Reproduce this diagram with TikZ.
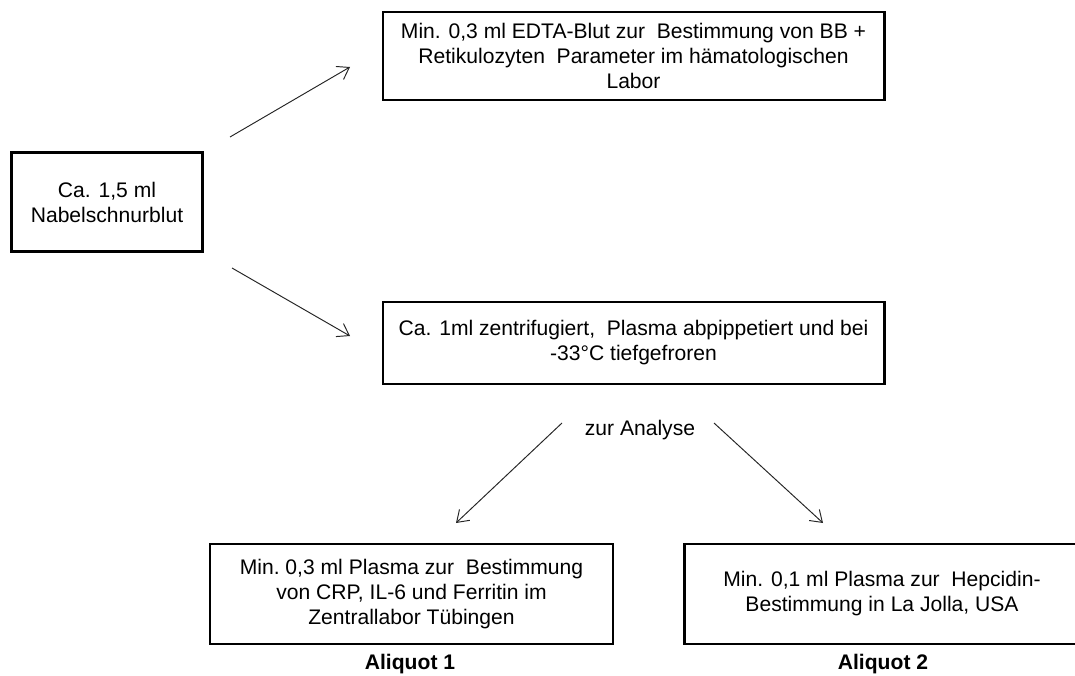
\documentclass[tikz,border=0pt]{standalone}
\usepackage{fontspec}
\setmainfont{Liberation Sans}
\usetikzlibrary{arrows.meta}
\tikzset{
	box/.style={draw, line width=1.7pt, align=center, inner sep=0pt, font=\fontsize{12}{14.2}\selectfont},
	arr/.style={-{Straight Barb[length=2.2mm, width=3mm]}, line width=0.55pt, black!85},
	lbl/.style={align=center, font=\fontsize{12}{14.2}\selectfont}
}
\begin{document}
\begin{tikzpicture}
	\useasboundingbox (0,0) rectangle (21.5,13.5);
	\node[box, minimum width=3.82cm, minimum height=1.98cm] (blood) at (2.14,9.46) {Ca. 1,5 ml\\Nabelschnurblut};
	\node[box, minimum width=10.02cm, minimum height=1.76cm] (edta) at (12.67,12.38) {Min. 0,3 ml EDTA-Blut zur\ \ Bestimmung von BB +\\Retikulozyten\ \ Parameter im h\"amatologischen\\Labor};
	\node[box, minimum width=10.02cm, minimum height=1.64cm] (plasma) at (12.67,6.64) {Ca. 1ml zentrifugiert,\ \ Plasma abpippetiert und bei\\-33\textdegree C tiefgefroren};
	\node[lbl] (analyse) at (12.8,4.9) {zur Analyse};
	\node[box, minimum width=8.06cm, minimum height=2.0cm] (crp) at (8.23,1.62) {Min.\ 0,3 ml Plasma zur\ \ Bestimmung\\von CRP, IL-6 und Ferritin im\\Zentrallabor T\"ubingen};
	\node[box, minimum width=7.92cm, minimum height=2.0cm] (hepc) at (17.64,1.62) {Min. 0,1 ml Plasma zur\ \ Hepcidin-\\Bestimmung in La Jolla, USA};
	\node[lbl, font=\fontsize{12}{14.2}\selectfont\bfseries] (ali1) at (8.2,0.22) {Aliquot 1};
	\node[lbl, font=\fontsize{12}{14.2}\selectfont\bfseries] (ali2) at (17.66,0.22) {Aliquot 2};
	% arrows (free ends)
	\coordinate (up0) at (4.6,10.76);
	\coordinate (up1) at (7.0,12.16);
	\coordinate (dn0) at (4.64,8.14);
	\coordinate (dn1) at (7.0,6.78);
	\coordinate (le0) at (11.24,5.04);
	\coordinate (le1) at (9.12,3.04);
	\coordinate (ri0) at (14.28,5.04);
	\coordinate (ri1) at (16.46,3.04);
	\draw[arr] (up0) -- (up1);
	\draw[arr] (dn0) -- (dn1);
	\draw[arr] (le0) -- (le1);
	\draw[arr] (ri0) -- (ri1);
\end{tikzpicture}
\end{document}
